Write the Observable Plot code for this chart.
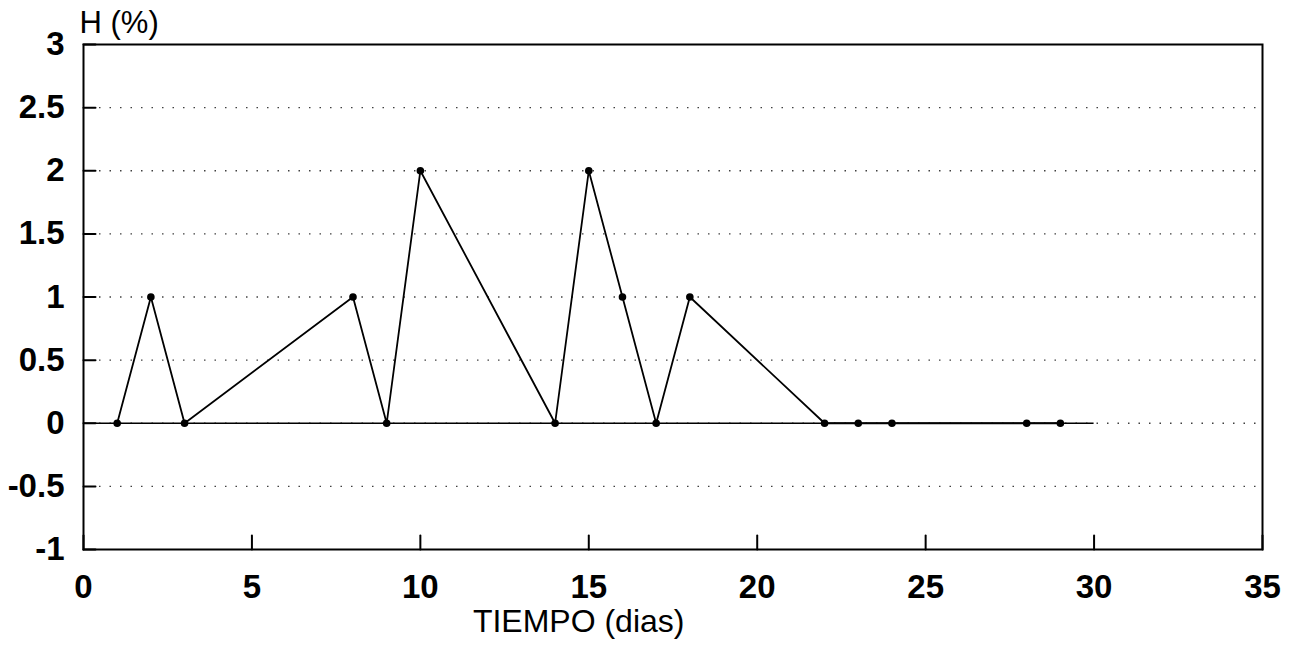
<!DOCTYPE html>
<html>
<head>
<meta charset="utf-8">
<script src="https://cdn.jsdelivr.net/npm/d3@7"></script>
<script src="https://cdn.jsdelivr.net/npm/@observablehq/plot@0.6"></script>
<style>
  html, body { margin: 0; padding: 0; background: #fff; }
  #chart svg { display: block; }
  #chart svg g[aria-label$="tick label"] { font-size: 33px; font-weight: bold; }
</style>
</head>
<body>
<div id="chart"></div>
<script>
// Data
const days   = [1, 2, 3, 8, 9, 10, 14, 15, 16, 17, 18, 22, 23, 24, 28, 29];
const hValue = [0, 1, 0, 1, 0, 2, 0, 2, 1, 0, 1, 0, 0, 0, 0, 0];
const xTicks = [0, 5, 10, 15, 20, 25, 30, 35];
const yTicks = [-1, -0.5, 0, 0.5, 1, 1.5, 2, 2.5, 3];
const gridY  = [-0.5, 0, 0.5, 1, 1.5, 2, 2.5];
const zeroLine = [{y: 0, x1: 0, x2: 30}];
const yLabel = "H (%)";
const xLabel = "TIEMPO (dias)";
const xLabelAt = 14.7;

const data = days.map((d, i) => ({day: d, h: hValue[i]}));
const font = "'Liberation Sans', Arial, Helvetica, sans-serif";

const spike = {draw(ctx, l) { ctx.moveTo(0, 0); ctx.lineTo(0, -l); }};

const chart = Plot.plot({
  width: 1290,
  height: 656,
  marginTop: 44,
  marginLeft: 83,
  marginRight: 28,
  marginBottom: 107,
  style: {fontFamily: font, background: "#fff", color: "#000"},
  x: {domain: [0, 35]},
  y: {domain: [-1, 3]},
  marks: [
    Plot.ruleY(gridY, {stroke: "#000", strokeOpacity: 0.75, strokeWidth: 1.3, strokeDasharray: "1.5,9", insetLeft: 16}),
    Plot.ruleY(zeroLine, {y: "y", x1: "x1", x2: "x2", stroke: "#000", strokeWidth: 1.6}),
    Plot.frame({stroke: "#000", strokeWidth: 2}),
    Plot.vector(xTicks, {x: d => d, y: -1, length: 14, anchor: "start", rotate: 0, shape: spike, stroke: "#000", strokeWidth: 2}),
    Plot.vector(yTicks, {x: 0, y: d => d, length: 12, anchor: "start", rotate: 90, shape: spike, stroke: "#000", strokeWidth: 2}),
    Plot.axisX(xTicks, {tickSize: 0, tickPadding: 25, fontWeight: "bold", tickFormat: d => String(d), label: null}),
    Plot.axisY(yTicks, {tickSize: 0, tickPadding: 19, fontWeight: "bold", tickFormat: d => String(d), label: null}),
    Plot.line(data, {x: "day", y: "h", stroke: "#000", strokeWidth: 1.8}),
    Plot.dot(data, {x: "day", y: "h", r: 3.8, fill: "#000", stroke: "none"}),
    Plot.text([yLabel], {text: d => d, frameAnchor: "top-left", dx: -4, dy: -21, textAnchor: "start", lineAnchor: "middle", fontSize: 31, fill: "#000"}),
    Plot.text([xLabel], {text: d => d, x: xLabelAt, frameAnchor: "bottom", dy: 72, lineAnchor: "middle", fontSize: 32, fill: "#000"})
  ]
});

document.getElementById("chart").appendChild(chart);
</script>
</body>
</html>
